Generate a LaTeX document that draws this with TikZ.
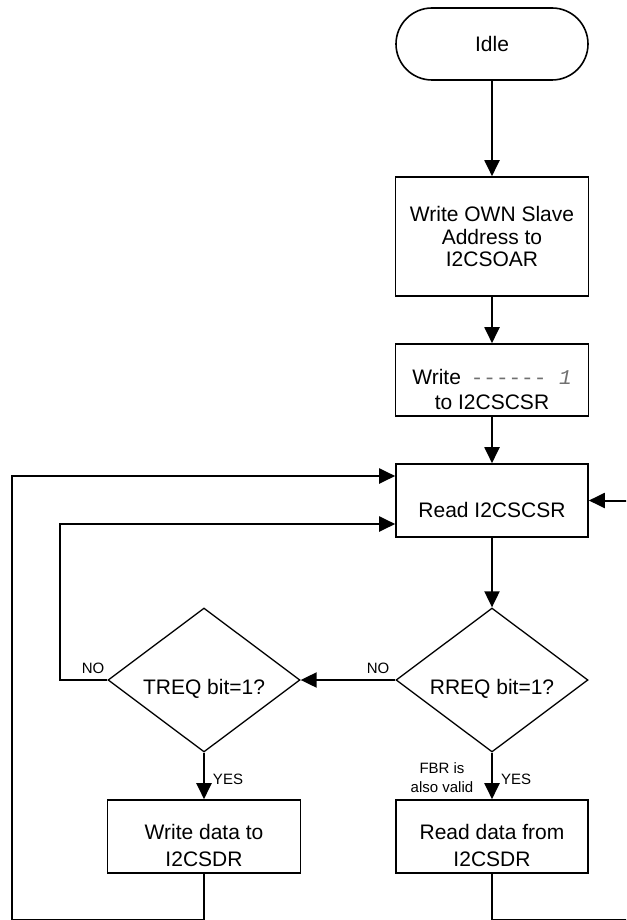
\documentclass[tikz,border=0pt]{standalone}
\usepackage{fontspec}
\setmainfont{Liberation Sans}
\newfontfamily\monof{Liberation Mono}
\usetikzlibrary{shapes.geometric,arrows.meta}
\definecolor{dashgray}{HTML}{707070}
\begin{document}
\begin{tikzpicture}[x=1pt,y=-1pt,
  box/.style={draw, line width=1.6pt, inner sep=0pt, align=center, font=\fontsize{21}{22.5}\selectfont},
  dia/.style={draw, diamond, line width=1.3pt, inner sep=0pt, minimum width=192pt, minimum height=144pt},
  txt/.style={inner sep=0pt, align=center, font=\fontsize{21}{26.5}\selectfont},
  lbl/.style={inner sep=0pt, align=center, font=\fontsize{15}{19}\selectfont},
  flow/.style={line width=2pt, -{Triangle[length=16pt,width=15pt]}},
  wire/.style={line width=2pt}]
\useasboundingbox (0,0) rectangle (626,920);
\clip (0,0) rectangle (626,920);

% nodes
\node[box, rounded corners=36pt, minimum width=192pt, minimum height=72pt] (idle) at (492,44) {Idle};
\node[box, minimum width=193pt, minimum height=119pt] (own) at (492,236.5) {Write OWN Slave\\Address to\\I2CSOAR};
\node[box, minimum width=193pt, minimum height=72pt] (wr1) at (492,380) {};
\node[txt, font=\fontsize{21}{25}\selectfont] (wr1T) at (492,389) {Write\hspace{4pt} {\monof\color{dashgray}-{}-{}-{}-{}-{}-\ \textit{1}}\\to I2CSCSR};
\node[box, minimum width=192pt, minimum height=73pt] (rd) at (492,500.5) {};
\node[txt] (rdT) at (492,509.5) {Read I2CSCSR};

\node[dia] (rreq) at (492,680) {};
\node[txt] (rreqT) at (492,689) {RREQ bit=1?};
\node[dia] (treq) at (204,680) {};
\node[txt] (treqT) at (204,689) {TREQ bit=1?};

\node[box, minimum width=193pt, minimum height=73pt] (wdata) at (204,836.5) {};
\node[txt] (wdataT) at (204,845.5) {Write data to\\I2CSDR};
\node[box, minimum width=192pt, minimum height=73pt] (rdata) at (492,836.5) {};
\node[txt] (rdataT) at (492,845.5) {Read data from\\I2CSDR};

% labels
\node[lbl] (noL) at (93,668) {NO};
\node[lbl] (noR) at (378,668) {NO};
\node[lbl] (yesL) at (228,779.5) {YES};
\node[lbl] (yesR) at (516,779.5) {YES};
\node[lbl] (fbr) at (442,777.5) {FBR is\\also valid};

% loop corners
\coordinate (cA) at (12,476);
\coordinate (cB) at (60,524);
\coordinate (cC) at (12,919.5);
\coordinate (cD) at (640,919.5);
\coordinate (cE) at (640,500.5);

% connectors
\draw[flow] (idle.south) -- (own.north);
\draw[flow] (own.south) -- (wr1.north);
\draw[flow] (wr1.south) -- (rd.north);
\draw[flow] (rd.south) -- (rreq.north);
\draw[flow] (rreq.west) -- (treq.east);
\draw[flow] (treq.south) -- (wdata.north);
\draw[flow] (rreq.south) -- (rdata.north);
\draw[flow] (treq.west) -| (cB) -- (cB -| rd.west);
\draw[flow] (wdata.south) |- (cC) -- (cA) -- (cA -| rd.west);
\draw[flow] (rdata.south) |- (cD) -- (cE) -- (rd.east);
\end{tikzpicture}
\end{document}
